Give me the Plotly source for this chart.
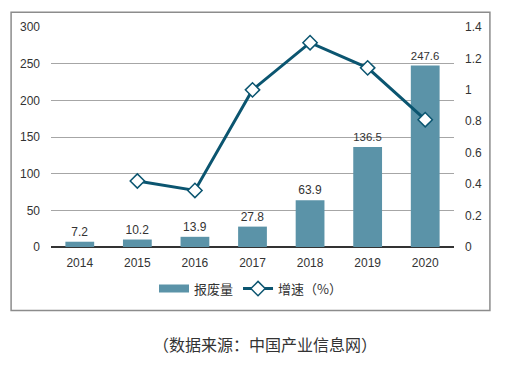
import plotly.graph_objects as go

years = ["2014", "2015", "2016", "2017", "2018", "2019", "2020"]
volume = [7.2, 10.2, 13.9, 27.8, 63.9, 136.5, 247.6]
growth_years = ["2015", "2016", "2017", "2018", "2019", "2020"]
growth = [0.42, 0.36, 1.00, 1.30, 1.14, 0.81]
volume_labels = ["7.2", "10.2", "13.9", "27.8", "63.9", "136.5", "247.6"]

BAR = "#5B93A8"
LINE = "#0B5570"
FONT = "Liberation Sans, Arial, Noto Sans CJK SC, sans-serif"
CJK = "Noto Sans CJK SC, Liberation Sans, sans-serif"

# page body has an 8px default margin; figure coordinates below are offset for it
OFF = 8
L, R, T, B = 50 - OFF, 454 - OFF, 25 - OFF, 247 - OFF
W, H = 523 - OFF, 379 - OFF
PW, PH = R - L, B - T

def px(x):
    return (x - OFF - L) / PW

def py(y):
    return (B - (y - OFF)) / PH

fig = go.Figure()
fig.add_trace(go.Bar(
    x=years, y=volume, name="报废量", marker=dict(color=BAR, line=dict(width=0)),
    text=volume_labels, textposition="outside", cliponaxis=False,
    textfont=dict(family=FONT, size=12, color="#333333"), yaxis="y", showlegend=False,
))
fig.add_trace(go.Scatter(
    x=[None], y=[None], name="报废量", mode="lines", yaxis="y",
    line=dict(color=BAR, width=8), hoverinfo="skip",
))
fig.add_trace(go.Scatter(
    x=growth_years, y=growth, name="增速（%）", mode="lines+markers", yaxis="y2",
    line=dict(color=LINE, width=3),
    marker=dict(symbol="diamond", size=11, color="white", line=dict(color=LINE, width=1.5)),
))

fig.update_layout(
    width=W, height=H,
    margin=dict(l=L, r=W - R, t=T, b=H - B),
    paper_bgcolor="white", plot_bgcolor="white",
    font=dict(family=FONT, size=12, color="#333333"),
    bargap=0.5,
    showlegend=True,
    legend=dict(orientation="h", x=px(250), xanchor="center", y=py(289), yanchor="middle",
                font=dict(family=CJK, size=13, color="#333333"), itemwidth=30,
                tracegroupgap=0, bgcolor="rgba(0,0,0,0)"),
    xaxis=dict(type="category", showgrid=False, showline=False, ticks="",
               tickfont=dict(size=12, color="#333333"), ticklabelstandoff=7),
    yaxis=dict(range=[0, 300], dtick=50, showgrid=True, gridcolor="#A6A6A6", gridwidth=1,
               zeroline=True, zerolinecolor="#333333", zerolinewidth=1.5, showline=False,
               ticks="", ticklabelstandoff=10, tickfont=dict(size=12, color="#333333")),
    yaxis2=dict(range=[0, 1.4], dtick=0.2, overlaying="y", side="right", showgrid=False,
                zeroline=False, showline=False, ticks="", ticklabelstandoff=10,
                tickfont=dict(size=12, color="#333333"), tickformat="~g"),
    shapes=[dict(type="rect", xref="paper", yref="paper",
                 x0=px(10), x1=px(490), y0=py(311), y1=py(10),
                 line=dict(color="#8C8C8C", width=1.5), fillcolor="rgba(0,0,0,0)", layer="below")],
    annotations=[dict(text="（数据来源：中国产业信息网）", xref="paper", yref="paper",
                      x=px(265), y=py(345), xanchor="center", yanchor="middle",
                      showarrow=False, font=dict(family=CJK, size=16, color="#333333"))],
)

fig.write_html("out.html")
